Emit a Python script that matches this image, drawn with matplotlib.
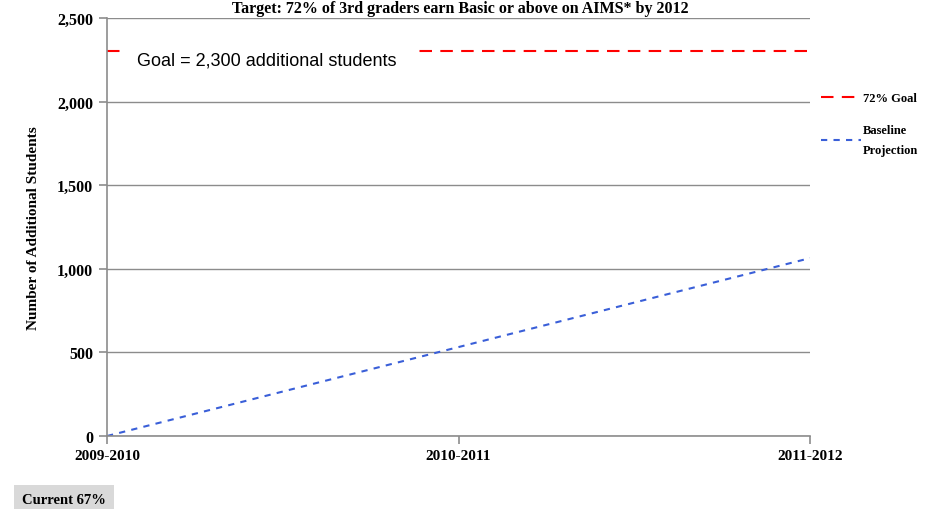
import matplotlib
matplotlib.use("Agg")
import matplotlib.pyplot as plt
from matplotlib.ticker import FuncFormatter

years = ["2009-2010", "2010-2011", "2011-2012"]
baseline = [0, 532, 1064]
goal = [2300, 2300, 2300]
y_ticks = [0, 500, 1000, 1500, 2000, 2500]

serif = ["Liberation Serif", "DejaVu Serif"]

fig = plt.figure(figsize=(9.33, 5.10), dpi=100)
ax = fig.add_axes([0.1147, 0.1431, 0.7535, 0.8196])

x = list(range(len(years)))
ax.plot(x, goal, color="#ff0000", lw=1.5, dashes=(6, 4), label="72% Goal")
ax.plot(x, baseline, color="#3a5fd8", lw=1.5, dashes=(3, 3), label="Baseline\nProjection")

ax.set_xlim(0, 2)
ax.set_ylim(0, 2500)
ax.set_xticks(x)
ax.set_xticklabels(years, fontfamily=serif, fontweight="bold", fontsize=11)
ax.set_yticks(y_ticks)
ax.yaxis.set_major_formatter(FuncFormatter(lambda v, p: f"{int(v):,}"))
for lab in ax.get_yticklabels():
    lab.set_fontfamily(serif)
    lab.set_fontweight("bold")
    lab.set_fontsize(11.5)

ax.grid(axis="y", color="#8c8c8c", lw=1)
ax.set_axisbelow(True)
for s in ["top", "right"]:
    ax.spines[s].set_visible(False)
for s in ["left", "bottom"]:
    ax.spines[s].set_color("#8c8c8c")
    ax.spines[s].set_linewidth(1.2)
ax.tick_params(axis="both", color="#8c8c8c", length=6, width=1.2)
ax.tick_params(axis="y", pad=4)

ax.set_ylabel("Number of Additional Students", fontfamily=serif, fontweight="bold",
              fontsize=11, labelpad=12)

# goal label on a white box that hides part of the dashed line
ax.text(0.085, 2250, "Goal = 2,300 additional students", fontfamily="Liberation Sans",
        fontsize=13, va="center", ha="left", zorder=5,
        bbox=dict(facecolor="white", edgecolor="none", boxstyle="square,pad=0.95"))

fig.text(0.493, 0.998, "Target: 72% of 3rd graders earn Basic or above on AIMS* by 2012",
         fontfamily=serif, fontweight="bold", fontsize=11.5, ha="center", va="top")

leg = ax.legend(loc="upper left", bbox_to_anchor=(1.0, 0.85), frameon=False,
                prop={"family": serif, "weight": "bold", "size": 9},
                handlelength=3.2, handletextpad=0.15, labelspacing=1.6)
leg.get_texts()[1].set_linespacing(1.9)

fig.text(0.024, 0.006, "Current 67%", fontfamily=serif, fontweight="bold", fontsize=10.5,
         ha="left", va="bottom",
         bbox=dict(facecolor="#d9d9d9", edgecolor="none", boxstyle="square,pad=0.55"))

fig.savefig("out.png", dpi=100)
